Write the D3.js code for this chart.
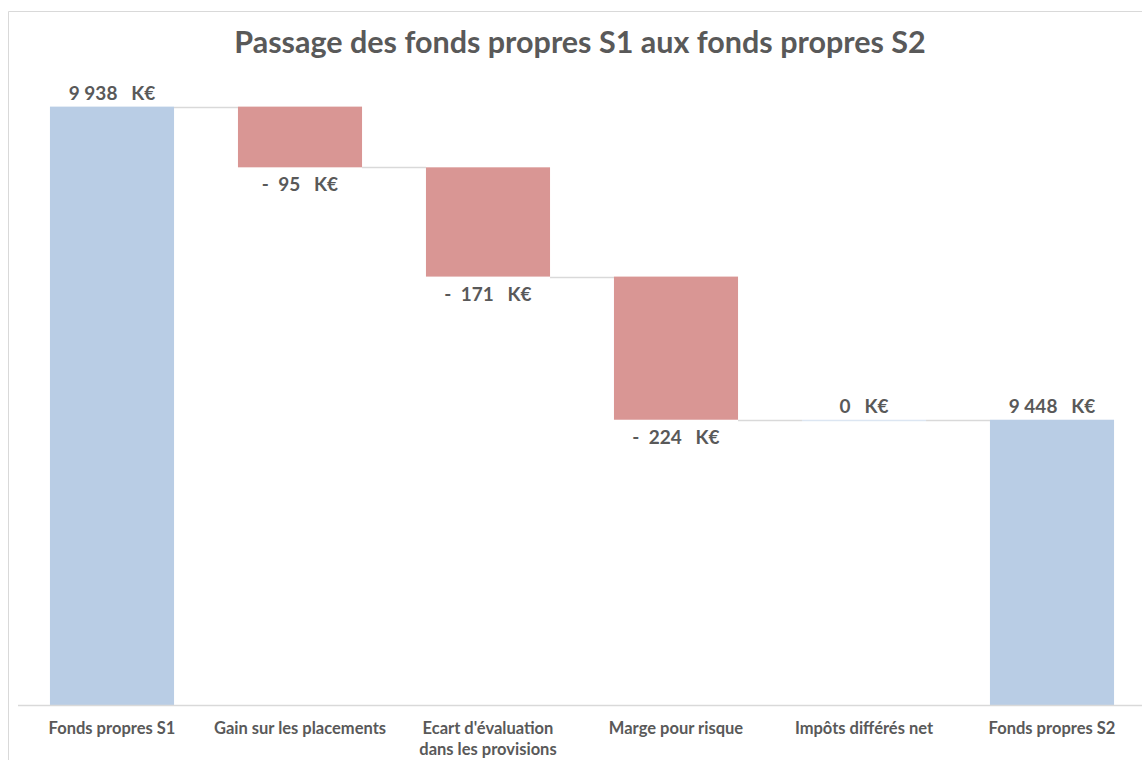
<!DOCTYPE html>
<html lang="fr">
<head>
<meta charset="UTF-8">
<title>Passage des fonds propres S1 aux fonds propres S2</title>
<style>
  html, body { margin: 0; padding: 0; background: #fff; }
  svg { display: block; font-family: Lato, "Open Sans", sans-serif; }
  .lbl { font-weight: bold; fill: #595959; white-space: pre; }
</style>
</head>
<body>
<div id="chart"></div>
<script src="https://d3js.org/d3.v7.min.js"></script>
<script>
// data
const categories = ["Fonds propres S1", "Gain sur les placements", "Ecart d'évaluation\ndans les provisions",
                    "Marge pour risque", "Impôts différés net", "Fonds propres S2"];
const values = [9938, -95, -171, -224, 0, 9448];
const isTotal = [true, false, false, false, false, true];
const yDomain = [9000, 10000];

const width = 1142, height = 760;
const svg = d3.select("#chart").append("svg")
    .attr("width", width)
    .attr("height", height);

// chart frame
svg.append("path")
    .attr("d", "M8.5,760 V11.5 H1142")
    .attr("fill", "none")
    .attr("stroke", "#d9d9d9")
    .attr("stroke-width", 1);

const x = d3.scaleBand()
    .domain(categories)
    .range([18, 1146])
    .paddingInner(0.34)
    .paddingOuter(0.17);

const y = d3.scaleLinear()
    .domain(yDomain)
    .range([706, 67]);

// running totals for the waterfall
let run = 0;
const steps = categories.map((c, i) => {
    let start, end;
    if (isTotal[i]) { start = yDomain[0]; end = values[i]; run = values[i]; }
    else { start = run; end = run + values[i]; run = end; }
    return { cat: c, value: values[i], total: isTotal[i], start, end, level: run };
});

// connectors
svg.append("g").selectAll("line")
    .data(steps.slice(0, -1))
    .enter().append("line")
    .attr("x1", (d) => x(d.cat) + x.bandwidth())
    .attr("x2", (d, i) => x(steps[i + 1].cat))
    .attr("y1", (d) => Math.round(y(d.level)) + 0.5)
    .attr("y2", (d) => Math.round(y(d.level)) + 0.5)
    .attr("stroke", "#d9d9d9")
    .attr("stroke-width", 1.5);

// bars
svg.append("g").selectAll("rect")
    .data(steps)
    .enter().append("rect")
    .attr("x", (d) => x(d.cat))
    .attr("width", x.bandwidth())
    .attr("y", (d) => y(Math.max(d.start, d.end)))
    .attr("height", (d) => Math.max(1.5, Math.abs(y(d.start) - y(d.end))))
    .attr("fill", (d) => d.total ? "#b9cde5" : (d.value < 0 ? "#d99694" : "#dce6f2"));

// x axis line
svg.append("line")
    .attr("x1", 18).attr("x2", 1142)
    .attr("y1", 705.5).attr("y2", 705.5)
    .attr("stroke", "#d9d9d9")
    .attr("stroke-width", 1.5);

// value labels
const fmt = (v) => {
    const s = d3.format(",")(Math.abs(v)).replace(/,/g, " ");
    return (v < 0 ? "-  " : "") + s + "   K€";
};
svg.append("g").selectAll("text")
    .data(steps)
    .enter().append("text")
    .attr("class", "lbl")
    .attr("x", (d) => x(d.cat) + x.bandwidth() / 2)
    .attr("y", (d) => d.value < 0 ? y(d.end) + 24 : y(Math.max(d.start, d.end)) - 7)
    .attr("text-anchor", "middle")
    .attr("font-size", 19)
    .attr("xml:space", "preserve")
    .text((d) => fmt(d.value));

// category labels
const cat = svg.append("g").selectAll("text")
    .data(categories)
    .enter().append("text")
    .attr("class", "lbl")
    .attr("x", (d) => x(d) + x.bandwidth() / 2)
    .attr("y", 734)
    .attr("text-anchor", "middle")
    .attr("font-size", 16.5);
cat.selectAll("tspan")
    .data((d) => d.split("\n"))
    .enter().append("tspan")
    .attr("x", function () { return d3.select(this.parentNode).attr("x"); })
    .attr("dy", (d, i) => i ? 21 : 0)
    .text((d) => d);

// title
svg.append("text")
    .attr("x", 580)
    .attr("y", 53)
    .attr("text-anchor", "middle")
    .attr("font-size", 30.5)
    .attr("font-weight", "bold")
    .attr("fill", "#595959")
    .text("Passage des fonds propres S1 aux fonds propres S2");
</script>
</body>
</html>
